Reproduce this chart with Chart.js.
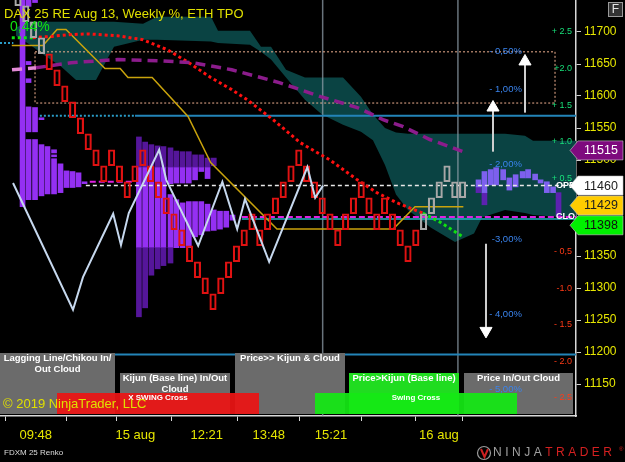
<!DOCTYPE html>
<html lang="en">
<head>
<meta charset="utf-8">
<title>DAX 25 RE Aug 13 - Renko</title>
<script src="https://cdn.jsdelivr.net/npm/chart.js@4.4.1/dist/chart.umd.min.js"></script>
<style>
  html, body { margin: 0; padding: 0; background: #000; overflow: hidden; }
  #chart { display: block; }
</style>
</head>
<body>
<canvas id="chart" width="625" height="462"></canvas>
<script>
// FDXM 25 Renko with Ichimoku cloud, TPO profiles and weekly % levels.
// x = Renko brick number, y = price (right axis).

const brickSize = 25;
const brickLow = [11741, 11716, 11691, 11666, 11641, 11616, 11591, 11566, 11541, 11516,
  11491, 11466, 11491, 11466, 11441, 11466, 11491, 11466, 11441, 11416,
  11391, 11366, 11341, 11316, 11291, 11266, 11291, 11316, 11341, 11366,
  11391, 11366, 11391, 11416, 11441, 11466, 11491, 11466, 11441, 11416,
  11391, 11366, 11391, 11416, 11441, 11416, 11391, 11416, 11391, 11366,
  11341, 11366, 11391, 11416, 11441, 11466, 11441, 11441];
const brickKind = 'GGGGRRRRRRRRRRRRRRRRRRRRRRRRRRRRRRRRRRRRRRRRRRRRRRRRGGGGGG'.split('');

// Ichimoku cloud (senkou spans)
const cloudBar = [-0.26, 1.54, 3.46, 5.51, 7.44, 10.0, 11.41, 12.31, 16.03, 17.82, 24.74,
  25.64, 29.74, 31.15, 32.44, 34.36, 36.79, 38.97, 41.67, 43.97, 45.51, 47.05, 48.46,
  50.0, 52.95, 56.03, 58.46, 59.49, 62.44, 65.0, 66.03, 69.49, 71.54];
const cloudTop = [11707, 11716, 11716, 11716, 11716, 11716, 11716, 11716, 11713, 11724, 11724,
  11702, 11702, 11677, 11677, 11641, 11629, 11629, 11629, 11599, 11571, 11550, 11543,
  11541, 11541, 11541, 11541, 11541, 11541, 11538, 11530, 11530, 11530];
const cloudBot = [11694, 11680, 11663, 11646, 11625, 11625, 11657, 11677, 11688, 11688, 11685,
  11683, 11680, 11669, 11657, 11629, 11594, 11571, 11555, 11544, 11531, 11492, 11446,
  11422, 11394, 11372, 11385, 11410, 11422, 11417, 11414, 11411, 11411];

// purple dashed average
const avgBar = [-0.77, 2.31, 6.79, 12.8, 18.3, 22.4, 27.4, 33.5, 38.8, 43.5, 46.8, 49.4, 52.8, 57.1];
const avgVal = [11641, 11644, 11652, 11657, 11655, 11652, 11641, 11621, 11599, 11582, 11563, 11552, 11532, 11513];

// tenkan (dotted red / green)
const tenkanBar = [-0.8, 1.9, 4.1, 6.8, 9.1, 12.8, 16.0, 19.2, 21.9, 24.7, 27.4, 29.4, 32.7,
  36.2, 40.0, 43.5, 46.0, 48.6, 51.9, 54.1, 56.9];
const tenkanVal = [11691, 11691, 11693, 11696, 11697, 11694, 11688, 11672, 11652, 11629, 11610,
  11594, 11563, 11527, 11500, 11469, 11449, 11433, 11417, 11403, 11381];

// kijun (gold)
const kijunBar = [-0.8, 3.2, 5.0, 6.15, 11.15, 13.1, 14.1, 17.2, 21.8, 24.7, 33.2, 48.1, 50.9, 57.1];
const kijunVal = [11679, 11679, 11704, 11704, 11643, 11643, 11629, 11629, 11568, 11496, 11392, 11392, 11427, 11427];

// chikou (lagging line)
const chikouBar = [-0.64, 7.05, 8.33, 12.2, 13.2, 14.2, 18.1, 19.0, 23.1, 26.2, 28.1, 29.1, 32.2, 37.1, 38.1, 39.1];
const chikouVal = [11464, 11266, 11317, 11416, 11367, 11417, 11516, 11469, 11366, 11466, 11392, 11439, 11341, 11489, 11441, 11460];

// TPO profile columns: [bar, low, high]
const leftProfile = [
  [0.58, 11427, 11750],
  [1.35, 11740, 11750], [1.35, 11649, 11654], [1.35, 11621, 11627], [1.35, 11544, 11583], [1.35, 11438, 11532],
  [2.18, 11746, 11750], [2.18, 11544, 11582], [2.18, 11438, 11532],
  [3.01, 11563, 11566], [3.01, 11444, 11524],
  [3.78, 11447, 11521],
  [4.62, 11511, 11516], [4.62, 11505, 11508], [4.62, 11447, 11502],
  [5.45, 11449, 11494], [6.22, 11457, 11483], [6.99, 11457, 11482], [7.76, 11458, 11480], [8.53, 11463, 11466]
];
const midProfileVA = [
  [15.5, 11363, 11489], [16.3, 11363, 11489], [17.1, 11363, 11489], [17.9, 11363, 11489], [18.65, 11363, 11489],
  [19.55, 11463, 11489], [19.55, 11363, 11446], [20.3, 11464, 11489], [20.3, 11363, 11438],
  [21.1, 11464, 11489], [21.1, 11363, 11433], [21.9, 11464, 11489], [21.9, 11363, 11435],
  [22.7, 11469, 11489], [22.7, 11380, 11435], [23.5, 11482, 11489], [23.5, 11383, 11435],
  [24.3, 11471, 11489], [24.3, 11389, 11431], [25.1, 11390, 11422], [25.9, 11392, 11420],
  [26.7, 11395, 11420], [27.5, 11406, 11414]
];
const midProfileOut = [
  [15.5, 11489, 11536], [15.5, 11255, 11363], [16.3, 11489, 11528], [16.3, 11269, 11363],
  [17.1, 11489, 11524], [17.1, 11320, 11363], [17.9, 11489, 11522], [17.9, 11330, 11363],
  [18.65, 11489, 11521], [18.65, 11335, 11363], [19.55, 11489, 11519], [19.55, 11339, 11363],
  [20.3, 11489, 11514], [21.1, 11489, 11513], [21.9, 11489, 11513], [22.7, 11489, 11508],
  [23.5, 11489, 11508], [24.3, 11489, 11503], [25.1, 11491, 11503]
];
const rightProfile = [
  [59.04, 11458, 11469], [59.8, 11449, 11482], [60.6, 11461, 11485], [61.3, 11461, 11488],
  [62.2, 11469, 11485], [63.0, 11453, 11472], [63.8, 11458, 11477], [64.7, 11472, 11482],
  [65.4, 11472, 11485], [66.3, 11469, 11478], [67.0, 11464, 11469], [67.8, 11449, 11466],
  [68.6, 11449, 11458]
];
const rightProfileDark = [[59.04, 11449, 11458], [59.8, 11430, 11449], [69.3, 11411, 11449]];

// horizontal levels
const levelPrice = [11569, 11569, 11196, 11683, 11460, 11466, 11411, 11408];
const levelFrom = [2.8, 15.0, -2.31, -2.31, 8.7, 9.2, 28.7, 28.7];
const levelTo = [15.0, 71.54, 71.54, -0.6, 71.54, 14.8, 71.54, 71.54];

// session separators and the weekly % box
const sessionBar = [39.06, 56.4];
const boxBar = [2.18, 68.85];
const boxPrice = [11669, 11589];

// arrows
const arrowBar = [65.0, 60.9, 60.0];
const arrowFrom = [11574, 11513, 11369];
const arrowTo = [11654, 11582, 11233];
const arrowTurn = [0, 0, 180];

// weekly % labels
const pctText = ['- 0,50%', '- 1,00%', '- 2,00%', '-3,00%', '- 4,00%', '- 5,00%'];
const pctPrice = [11669, 11610, 11493, 11376, 11259, 11141];

// inner right scale labels
const sideLevels = [2.5, 2, 1.5, 1, 0.5, -0.5, -1, -1.5, -2, -2.5];
const sideText = ['+ 2.5', '+2.0', '+ 1.5', '+ 1.0', '+ 0.5', '- 0,5', '-1.0', '- 1.5', '- 2.0', '- 2.5'];

// price tags on the axis
const tagPrice = [11515, 11460, 11429, 11398];

// axis ticks
const priceTicks = [11150, 11200, 11250, 11300, 11350, 11400, 11450, 11500, 11550, 11600, 11650, 11700];
const timeTickBars = [2.27, 10.13, 15.04, 24.19, 32.14, 40.13, 47.99, 53.97];
const timeTickLabels = ['09:48', '', '15 aug', '12:21', '13:48', '15:21', '', '16 aug'];

const xy = (xs, ys) => xs.map((x, i) => ({ x: x, y: ys[i] }));
const cols = rows => rows.map(r => ({ x: r[0], y: [r[1], r[2]] }));
const line = (data, extra) => Object.assign({ type: 'line', data: data, pointRadius: 0, fill: false, tension: 0 }, extra);
const bars = (data, extra) => Object.assign({ type: 'bar', data: data, grouped: false, borderWidth: 0 }, extra);

const levelStyle = [
  { borderColor: '#2a9cc8', borderWidth: 2, borderDash: [2, 2] },
  { borderColor: '#2384b8', borderWidth: 2 },
  { borderColor: '#2384b8', borderWidth: 2 },
  { borderColor: '#2a9cc8', borderWidth: 2, borderDash: [2, 2] },
  { borderColor: '#e8e8e8', borderWidth: 1.5, borderDash: [4, 3] },
  { borderColor: '#e020e0', borderWidth: 2, borderDash: [6, 3] },
  { borderColor: '#e020e0', borderWidth: 2, borderDash: [6, 3] },
  { borderColor: '#22b4c4', borderWidth: 1.5 }
];

const datasets = [
  line(xy(cloudBar, cloudTop), { borderColor: 'rgba(0,0,0,0)', fill: '+1', backgroundColor: '#0a4343', order: 20 }),
  line(xy(cloudBar, cloudBot), { borderColor: 'rgba(0,0,0,0)', order: 20 })
];
sessionBar.forEach(b => datasets.push(line([{ x: b, y: 11100 }, { x: b, y: 11750 }],
  { borderColor: 'rgba(140,155,165,0.75)', borderWidth: 1.5, order: 19 })));
datasets.push(bars(cols(leftProfile), { backgroundColor: '#9430f2', barThickness: 5, order: 15 }));
datasets.push(bars(cols(midProfileOut), { backgroundColor: '#55169a', barThickness: 5, order: 15 }));
datasets.push(bars(cols(midProfileVA), { backgroundColor: '#9430f2', barThickness: 5, order: 15 }));
datasets.push(bars(cols(rightProfile), { backgroundColor: '#7d60ee', barThickness: 5, order: 15 }));
datasets.push(bars(cols(rightProfileDark), { backgroundColor: '#5c22b0', barThickness: 5, order: 15 }));
levelPrice.forEach((p, i) => datasets.push(line([{ x: levelFrom[i], y: p }, { x: levelTo[i], y: p }],
  Object.assign({ order: 12 }, levelStyle[i]))));
datasets.push(line([
  { x: boxBar[0], y: boxPrice[0] }, { x: boxBar[1], y: boxPrice[0] }, { x: boxBar[1], y: boxPrice[1] },
  { x: boxBar[0], y: boxPrice[1] }, { x: boxBar[0], y: boxPrice[0] }
], { borderColor: '#f0b090', borderWidth: 1, borderDash: [2, 2], order: 11 }));
datasets.push(line(xy(kijunBar, kijunVal), { borderColor: '#c9a30c', borderWidth: 1.5, order: 10 }));
datasets.push(line(xy(tenkanBar, tenkanVal), {
  borderColor: '#ff1010', borderWidth: 3, borderDash: [3, 3], order: 9,
  segment: { borderColor: c => (c.p1.parsed.x <= 2 || c.p0.parsed.x >= 51.9) ? '#10e010' : '#ff1010' }
}));
datasets.push(line(xy(avgBar, avgVal), {
  borderColor: '#8c1c8c', borderWidth: 3.5, borderDash: [10, 6], order: 8,
  segment: { borderColor: c => c.p1.parsed.x <= 2.4 ? '#e28ad6' : '#8c1c8c' }
}));
datasets.push(bars(brickLow.map((lo, i) => ({ x: i, y: [lo, lo + brickSize] })), {
  backgroundColor: 'rgba(0,0,0,0)', borderColor: brickKind.map(k => k === 'G' ? '#a8a8a8' : '#e01212'),
  borderWidth: 1.5, borderSkipped: false, barThickness: 6.5, order: 7
}));
datasets.push(line(xy(chikouBar, chikouVal), { borderColor: '#c6d8ee', borderWidth: 2, order: 6 }));
arrowBar.forEach((b, i) => datasets.push(line([{ x: b, y: arrowFrom[i] }, { x: b, y: arrowTo[i] }], {
  borderColor: '#cfcfcf', borderWidth: 2, order: 5, pointRadius: [0, 7], pointStyle: 'triangle',
  pointRotation: [0, arrowTurn[i]], pointBackgroundColor: '#ffffff', pointBorderColor: '#ffffff', pointBorderWidth: 1
})));

const panels = [
  { x0: 0, x1: 115, y0: 353, fill: '#6b6b6b', lines: ['Lagging Line/Chikou In/', 'Out Cloud'] },
  { x0: 120, x1: 230, y0: 373, fill: '#6b6b6b', lines: ['Kijun (Base line) In/Out', 'Cloud'] },
  { x0: 235, x1: 345, y0: 353, fill: '#6b6b6b', lines: ['Price>> Kijun & Cloud'] },
  { x0: 349, x1: 459, y0: 373, fill: '#20dc20', lines: ['Price>Kijun (Base line)'] },
  { x0: 464, x1: 573, y0: 373, fill: '#6b6b6b', lines: ['Price In/Out Cloud'] }
];
const swings = [
  { x0: 57, x1: 259, fill: 'rgba(236,20,20,0.93)', text: 'X SWING Cross', tx: 158 },
  { x0: 315, x1: 517, fill: 'rgba(20,232,20,0.93)', text: 'Swing Cross', tx: 416 }
];
const tagFill = ['#7e0a7e', '#ffffff', '#ffcc00', '#00f000'];
const tagInk = ['#ffffff', '#202020', '#202020', '#101010'];

const overlay = {
  id: 'overlay',
  afterDraw(chart) {
    const ctx = chart.ctx;
    const sx = chart.scales.x, sy = chart.scales.y, s2 = chart.scales.y2, area = chart.chartArea;
    ctx.save();
    // indicator panels
    panels.forEach(p => { ctx.fillStyle = p.fill; ctx.fillRect(p.x0, p.y0, p.x1 - p.x0, 414 - p.y0); });
    swings.forEach(s => { ctx.fillStyle = s.fill; ctx.fillRect(s.x0, 393, s.x1 - s.x0, 21); });
    ctx.fillStyle = '#ffffff';
    ctx.textAlign = 'center';
    ctx.textBaseline = 'middle';
    ctx.font = 'bold 9.5px Arial';
    panels.forEach(p => p.lines.forEach((t, i) => ctx.fillText(t, (p.x0 + p.x1) / 2, p.y0 + 5.5 + i * 11)));
    ctx.font = 'bold 8px Arial';
    swings.forEach(s => ctx.fillText(s.text, s.tx, 398));

    // weekly % labels
    ctx.font = '9.5px Arial';
    ctx.textAlign = 'right';
    ctx.fillStyle = '#3a84ee';
    pctText.forEach((t, i) => ctx.fillText(t, sx.getPixelForValue(64.6), sy.getPixelForValue(pctPrice[i])));

    // inner side scale
    ctx.font = '9px Arial';
    sideLevels.forEach((v, i) => {
      ctx.fillStyle = v > 0 ? '#18e07a' : '#ff3a16';
      ctx.fillText(sideText[i], area.right - 4, s2.getPixelForValue(v));
    });
    ctx.font = 'bold 9px Arial';
    ctx.textAlign = 'left';
    ctx.fillStyle = '#ffffff';
    ctx.fillText('OPE', 556, sy.getPixelForValue(11460));
    ctx.fillText('CLO', 556, sy.getPixelForValue(11411));

    // texts
    ctx.textBaseline = 'alphabetic';
    ctx.font = '13px Arial';
    ctx.fillStyle = '#e0e000';
    ctx.fillText('\u00a9 2019 NinjaTrader, LLC', 3, 408);
    ctx.fillText('DAX 25 RE Aug 13, Weekly %, ETH TPO', 4, 18);
    ctx.font = '14px Arial';
    ctx.fillStyle = '#10e010';
    ctx.fillText('0,44%', 10, 31);

    // price tags
    ctx.font = '12.5px Arial';
    ctx.textAlign = 'center';
    ctx.textBaseline = 'middle';
    tagPrice.forEach((p, i) => {
      const cy = sy.getPixelForValue(p);
      ctx.beginPath();
      ctx.moveTo(570, cy);
      ctx.lineTo(578, cy - 9.5);
      ctx.lineTo(623, cy - 9.5);
      ctx.lineTo(623, cy + 9.5);
      ctx.lineTo(578, cy + 9.5);
      ctx.closePath();
      ctx.fillStyle = tagFill[i];
      ctx.fill();
      ctx.strokeStyle = 'rgba(200,200,200,0.6)';
      ctx.lineWidth = 1;
      ctx.stroke();
      ctx.fillStyle = tagInk[i];
      ctx.fillText(String(p), 601, cy + 0.5);
    });

    // F button
    ctx.fillStyle = '#333333';
    ctx.fillRect(608, 2, 14, 14);
    ctx.strokeStyle = '#9a9a9a';
    ctx.strokeRect(608.5, 2.5, 14, 14);
    ctx.fillStyle = '#e6e6e6';
    ctx.font = '12px Arial';
    ctx.fillText('F', 615.5, 9.5);

    // footer
    ctx.textAlign = 'left';
    ctx.fillStyle = '#dcdcdc';
    ctx.font = '8px Arial';
    ctx.fillText('FDXM 25 Renko', 4, 453);
    ctx.strokeStyle = '#9a9a9a';
    ctx.lineWidth = 1.2;
    ctx.beginPath();
    ctx.arc(484, 453, 6.5, 0, Math.PI * 2);
    ctx.stroke();
    ctx.strokeStyle = '#cc2020';
    ctx.lineWidth = 2;
    ctx.beginPath();
    ctx.moveTo(481, 449);
    ctx.lineTo(484.5, 457);
    ctx.lineTo(488, 449);
    ctx.stroke();
    ctx.font = '12px Arial';
    ctx.letterSpacing = '3.5px';
    ctx.fillStyle = '#a0a0a0';
    ctx.fillText('NINJA', 493, 453);
    const w = ctx.measureText('NINJA').width;
    ctx.fillStyle = '#d42020';
    ctx.fillText('TRADER', 493 + w, 453);
    ctx.letterSpacing = '0px';
    ctx.font = '6px Arial';
    ctx.fillText('\u00ae', 619, 449);
    ctx.restore();
  }
};

const noPad = s => { s.paddingTop = 0; s.paddingBottom = 0; s.paddingLeft = 0; s.paddingRight = 0; };

new Chart(document.getElementById('chart'), {
  type: 'line',
  data: { datasets: datasets },
  options: {
    responsive: false,
    devicePixelRatio: 1,
    animation: false,
    layout: { padding: 0, autoPadding: false },
    plugins: { legend: { display: false }, tooltip: { enabled: false } },
    scales: {
      x: {
        type: 'linear', min: -2.31, max: 71.54, offset: false,
        afterBuildTicks: s => { s.ticks = timeTickBars.map(v => ({ value: v })); },
        afterFit: s => { s.height = 46; noPad(s); },
        ticks: { color: '#e6e600', font: { family: 'Arial', size: 13 }, padding: 7, autoSkip: false, maxRotation: 0,
          callback: (v, i) => timeTickLabels[i] },
        grid: { drawOnChartArea: false, drawTicks: true, tickLength: 5, color: '#d8d8d8' },
        border: { display: true, color: '#d8d8d8', width: 1.5 }
      },
      y: {
        type: 'linear', position: 'right', min: 11100, max: 11750,
        afterBuildTicks: s => { s.ticks = priceTicks.map(v => ({ value: v })); },
        afterFit: s => { s.width = 49; noPad(s); },
        ticks: { color: '#e6e600', font: { family: 'Arial', size: 12 }, padding: 3, callback: v => String(v) },
        grid: { drawOnChartArea: false, drawTicks: true, tickLength: 5, color: '#d0d0d0' },
        border: { display: true, color: '#d8d8d8', width: 1.5 }
      },
      y2: { type: 'linear', display: false, min: -2.746, max: 2.937, ticks: { display: false }, afterFit: noPad }
    }
  },
  plugins: [overlay]
});
</script>
</body>
</html>
